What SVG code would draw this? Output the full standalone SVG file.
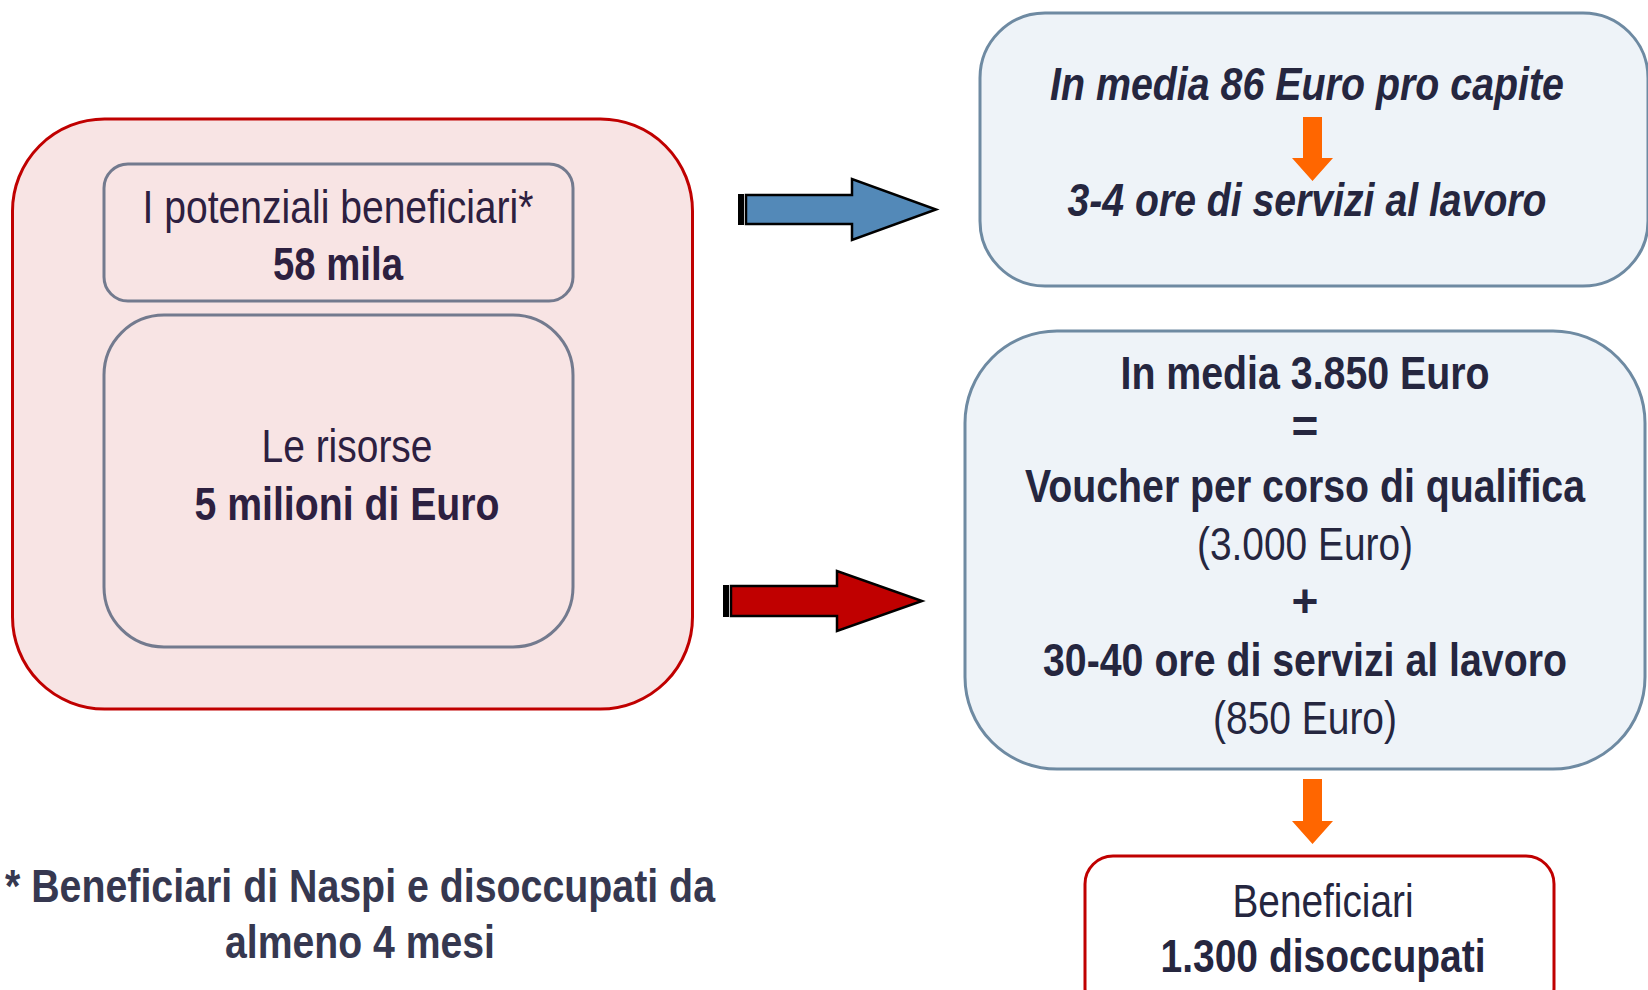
<svg xmlns="http://www.w3.org/2000/svg" width="1648" height="990" viewBox="0 0 1648 990">
<style>
text{font-family:"Liberation Sans Narrow","Liberation Sans",Arial,sans-serif;font-size:46px;text-anchor:middle}
.b{font-weight:bold}
.i{font-style:italic;font-weight:bold}
.lt{fill:#2D2040}
.rt{fill:#25263F}
.ft{fill:#363850}
.blue{fill:#EEF3F8;stroke:#6E8AA2;stroke-width:3}
.inner{fill:none;stroke:#737A8E;stroke-width:3}
.orange{fill:#FF6600}
</style>
<rect width="1648" height="990" fill="#FFFFFF"/>

<g id="left-container">
<rect x="12.5" y="119" width="680" height="590" rx="92" fill="#F8E4E4" stroke="#C00000" stroke-width="3"/>
</g>
<g id="node-beneficiari-potenziali">
<rect class="inner" x="104" y="164" width="469" height="137" rx="24"/>
<text class="lt" x="338" y="223" textLength="391" lengthAdjust="spacingAndGlyphs">I potenziali beneficiari*</text>
<text class="lt b" x="338" y="280" textLength="130" lengthAdjust="spacingAndGlyphs">58 mila</text>
</g>
<g id="node-risorse">
<rect class="inner" x="104" y="315" width="469" height="332" rx="60"/>
<text class="lt" x="347" y="462" textLength="171" lengthAdjust="spacingAndGlyphs">Le risorse</text>
<text class="lt b" x="347" y="520" textLength="305" lengthAdjust="spacingAndGlyphs">5 milioni di Euro</text>
</g>

<g id="node-86-euro">
<rect class="blue" x="980" y="13" width="668" height="273" rx="65"/>
<text class="rt i" x="1307" y="100" textLength="514" lengthAdjust="spacingAndGlyphs">In media 86 Euro pro capite</text>
<polygon class="orange" points="1303,117 1322,117 1322,158 1333,158 1312.5,181 1292,158 1303,158"/>
<text class="rt i" x="1307" y="216" textLength="479" lengthAdjust="spacingAndGlyphs">3-4 ore di servizi al lavoro</text>
</g>

<g id="node-3850-euro">
<rect class="blue" x="965" y="331" width="680" height="438" rx="92"/>
<text class="rt b" x="1305" y="389" textLength="369" lengthAdjust="spacingAndGlyphs">In media 3.850 Euro</text>
<text class="rt b" x="1305" y="442">=</text>
<text class="rt b" x="1305" y="502" textLength="560" lengthAdjust="spacingAndGlyphs">Voucher per corso di qualifica</text>
<text class="rt" x="1305" y="560" textLength="216" lengthAdjust="spacingAndGlyphs">(3.000 Euro)</text>
<text class="rt b" x="1305" y="617">+</text>
<text class="rt b" x="1305" y="676" textLength="524" lengthAdjust="spacingAndGlyphs">30-40 ore di servizi al lavoro</text>
<text class="rt" x="1305" y="734" textLength="184" lengthAdjust="spacingAndGlyphs">(850 Euro)</text>
</g>

<g id="node-beneficiari-finali">
<rect x="1085" y="856" width="469" height="160" rx="28" fill="#FFFFFF" stroke="#C00000" stroke-width="3"/>
<text class="rt" x="1323" y="917" textLength="181" lengthAdjust="spacingAndGlyphs">Beneficiari</text>
<text class="rt b" x="1323" y="972" textLength="325" lengthAdjust="spacingAndGlyphs">1.300 disoccupati</text>
</g>

<g id="footnote">
<text class="ft b" x="360" y="902" textLength="710" lengthAdjust="spacingAndGlyphs">* Beneficiari di Naspi e disoccupati da</text>
<text class="ft b" x="360" y="958" textLength="270" lengthAdjust="spacingAndGlyphs">almeno 4 mesi</text>
</g>

<g id="connectors">
<rect x="738" y="194" width="6" height="31" fill="#000000"/>
<polygon points="746,195 852,195 852,179 936,209.5 852,240 852,224 746,224" fill="#5389B8" stroke="#000000" stroke-width="2.5" stroke-linejoin="miter"/>
<rect x="723" y="585" width="6" height="32" fill="#000000"/>
<polygon points="731,586 837,586 837,571 922,601 837,631 837,616 731,616" fill="#C00000" stroke="#000000" stroke-width="2.5" stroke-linejoin="miter"/>
<polygon class="orange" points="1303,779 1322,779 1322,821 1333,821 1312.5,844 1292,821 1303,821"/>
</g>
</svg>
